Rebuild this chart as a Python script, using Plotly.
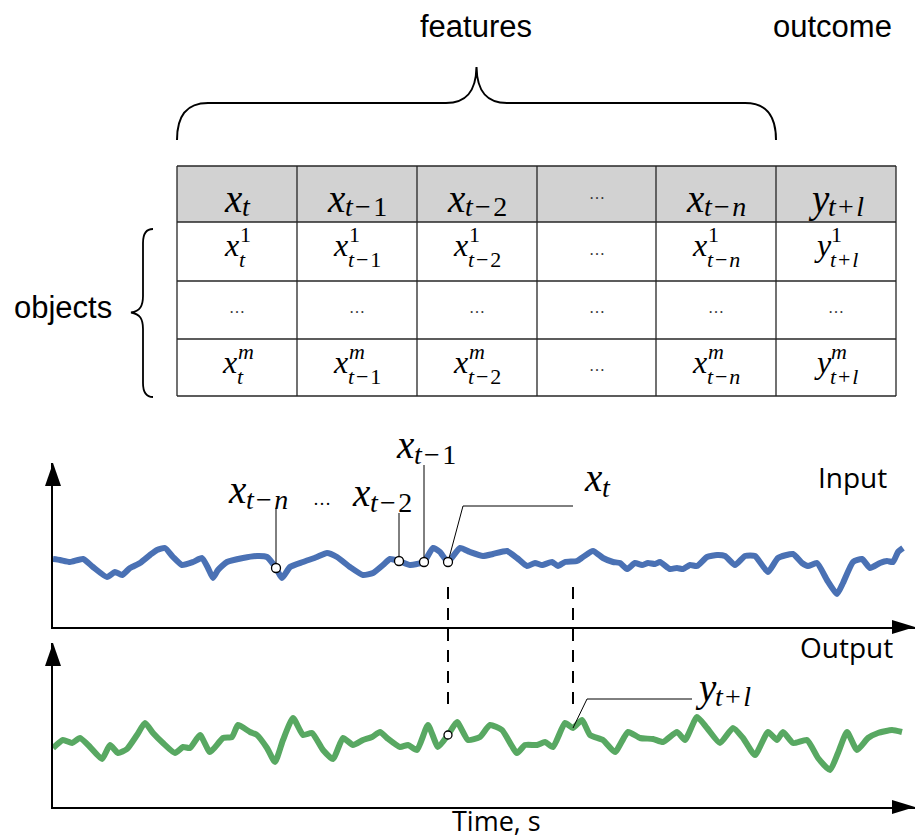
import plotly.graph_objects as go

W, H = 918, 840

# ------------------------------------------------------------------ data
# Table content
col_var = ["x", "x", "x", "…", "x", "y"]
col_sub = ["t", "t−1", "t−2", "", "t−n", "t+l"]
row_sup = ["1", "…", "m"]
top_labels = ["features", "outcome"]
row_label = "objects"

# Input signal (blue) – time, amplitude
input_time = [0, 7, 17, 30, 40, 54, 62, 69, 77, 87, 97, 104, 112, 120, 129, 140, 149, 155, 160, 165,
              174, 190, 204, 214, 223, 229, 237, 250, 264, 274, 284, 297, 310, 320, 330, 337, 346, 357,
              364, 371, 380, 387, 395, 407, 417, 430, 440, 454, 464, 474, 482, 489, 499, 505, 512, 524,
              530, 540, 550, 560, 567, 574, 582, 589, 595, 602, 607, 617, 624, 630, 637, 644, 654, 664,
              672, 682, 692, 702, 715, 725, 740, 749, 755, 764, 774, 784, 790, 800, 809, 817, 827, 834,
              840, 845, 850]
input_value = [68, 67, 65, 68, 60, 50, 55, 52, 59, 64, 72, 77, 79, 70, 62, 65, 69, 59, 49, 57,
               65, 69, 71, 70, 59, 49, 60, 65, 70, 74, 70, 60, 52, 54, 62, 68, 66, 62,
               63, 65, 79, 75, 65, 79, 75, 71, 73, 76, 69, 61, 64, 62, 65, 61, 65, 66,
               70, 76, 69, 65, 64, 58, 64, 62, 64, 63, 65, 58, 59, 58, 62, 61, 70, 72,
               71, 62, 71, 71, 55, 69, 73, 64, 61, 64, 47, 33, 44, 65, 68, 59, 64, 66,
               65, 75, 79]

# Output signal (green) – time, amplitude
output_time = [0, 10, 19, 27, 37, 49, 57, 65, 74, 84, 92, 100, 110, 122, 130, 137, 147, 157, 170, 179,
               185, 197, 204, 214, 222, 230, 240, 250, 259, 270, 280, 290, 300, 310, 319, 327, 334, 347,
               355, 364, 375, 385, 395, 404, 415, 427, 437, 449, 464, 472, 484, 492, 500, 512, 520, 529,
               537, 550, 562, 575, 587, 600, 610, 624, 632, 644, 654, 667, 680, 690, 702, 715, 724, 730,
               740, 754, 765, 777, 785, 794, 804, 815, 825, 839, 849]
output_value = [59, 67, 64, 69, 60, 48, 62, 54, 58, 72, 84, 74, 64, 54, 60, 59, 72, 55, 69, 70,
                82, 75, 72, 59, 45, 67, 89, 72, 74, 57, 48, 69, 62, 67, 70, 75, 69, 60,
                62, 57, 82, 60, 72, 85, 67, 70, 82, 77, 54, 62, 62, 65, 60, 84, 79, 87,
                72, 67, 55, 75, 69, 68, 65, 75, 67, 90, 79, 64, 79, 69, 52, 75, 67, 75,
                64, 67, 49, 37, 54, 75, 57, 69, 74, 77, 75]

# Marked samples
input_marks = {"t−n": 223, "t−2": 346, "t−1": 371, "t": 395}
output_mark_in = 395      # sample aligned with x_t
output_mark_out = 520     # y_{t+l}
axis_labels = ["Input", "Output", "Time, s"]

# ------------------------------------------------------------------ style
BLUE = "#4a71b4"
GREEN = "#58a862"
SERIF = "Liberation Serif"
SANS = "Liberation Sans"
OPEN = "Open Sans"
K = {SERIF: 0.3375, SANS: 0.3465, OPEN: 0.388}
HS = "\u200a"   # hair space around binary operators in scripts

# geometry (pixels)
AX_L, AX_R = 53, 915
TOP_B, TOP_T = 627, 463
BOT_B, BOT_T = 807, 643
T_MAX, V_MAX = AX_R - AX_L, TOP_B - TOP_T

COLS = [177, 297, 417, 537, 656, 776, 896]
ROWS = [166, 222, 281, 339, 396]

fig = go.Figure()


def px(x):
    return x / W


def py(y):
    return 1 - y / H


def t_of(x):
    return (x - AX_L) / (AX_R - AX_L) * T_MAX


def v_top(y):
    return (TOP_B - y) / (TOP_B - TOP_T) * V_MAX


def v_bot(y):
    return (BOT_B - y) / (BOT_B - BOT_T) * V_MAX


def path(cmds):
    out = []
    for c in cmds:
        letter, nums = c[0], c[1:]
        pts = []
        for i in range(0, len(nums), 2):
            pts.append(f"{px(nums[i]):.5f},{py(nums[i+1]):.5f}")
        out.append(letter + " " + " ".join(pts))
    return " ".join(out)


def add_text(text, x, base, size, family, color="black", anchor="center"):
    fig.add_annotation(text=text, x=px(x), y=py(base - K[family] * size),
                       xref="paper", yref="paper", xanchor=anchor, yanchor="middle",
                       showarrow=False, borderpad=0, borderwidth=0,
                       font=dict(family=family, size=size, color=color))


IT = {"x": .444, "y": .50, "t": .278, "n": .5, "l": .278, "m": .722}
RG = {"1": .5, "2": .5, "−": .564, "+": .564, HS: .083}


def spaced(s):
    return s.replace("−", HS + "−" + HS).replace("+", HS + "+" + HS)


def width(s):
    return sum(IT.get(c, RG.get(c, .5)) for c in s)


def ital(s):
    return "".join(f"<i>{c}</i>" if c.isalpha() else c for c in s)


def math_label(var, sub, sup, xc, base, M, s, ds, du=0):
    sub = spaced(sub) if sub else sub
    wv = IT[var] * M
    ws = max(width(sub or ""), width(sup or "")) * s
    x0 = xc - (wv + ws) / 2
    add_text(ital(var), x0, base, M, SERIF, anchor="left")
    if sub:
        add_text(ital(sub), x0 + wv + 0.5, base + ds, s, SERIF, anchor="left")
    if sup:
        add_text(ital(sup), x0 + wv + 1.5, base - du, s, SERIF, anchor="left")


# ------------------------------------------------------------------ table
fig.add_shape(type="rect", xref="paper", yref="paper", x0=px(COLS[0]), x1=px(COLS[-1]),
              y0=py(ROWS[0]), y1=py(ROWS[1]), fillcolor="#d2d2d2", line_width=0, layer="below")
for yv in ROWS:
    fig.add_shape(type="line", xref="paper", yref="paper", x0=px(COLS[0]), x1=px(COLS[-1]),
                  y0=py(yv), y1=py(yv), line=dict(color="#262626", width=1.3))
for xv in COLS:
    fig.add_shape(type="line", xref="paper", yref="paper", x0=px(xv), x1=px(xv),
                  y0=py(ROWS[0]), y1=py(ROWS[-1]), line=dict(color="#262626", width=1.3))

DOTS = "#333"
for ci, (var, sub) in enumerate(zip(col_var, col_sub)):
    xc = (COLS[ci] + COLS[ci + 1]) / 2
    if var == "…":
        add_text("…", xc, 199, 16, SERIF, color=DOTS)
        for ri in range(3):
            add_text("…", xc, (ROWS[ri + 1] + ROWS[ri + 2]) / 2 + 3, 16, SERIF, color=DOTS)
        continue
    math_label(var, sub, None, xc, 212, 39, 28, 4)
    for ri, sup in enumerate(row_sup):
        if sup == "…":
            add_text("…", xc, (ROWS[ri + 1] + ROWS[ri + 2]) / 2 + 3, 16, SERIF, color=DOTS)
        else:
            math_label(var, sub, sup, xc, ROWS[ri + 1] + 34, 32, 22, 11, 14)

# braces
fig.add_shape(type="path", xref="paper", yref="paper", line=dict(color="black", width=2),
              path=path([("M", 177, 140), ("C", 177, 116, 186, 103, 208, 103), ("L", 446, 103),
                         ("C", 466, 103, 476, 92, 476.5, 67), ("C", 477, 92, 487, 103, 507, 103),
                         ("L", 745, 103), ("C", 767, 103, 776, 116, 776, 140)]))
fig.add_shape(type="path", xref="paper", yref="paper", line=dict(color="black", width=1.8),
              path=path([("M", 153, 229), ("C", 146, 229, 143, 234, 143, 243), ("L", 143, 296),
                         ("C", 143, 306, 140, 311, 131, 312.5), ("C", 140, 314, 143, 319, 143, 329),
                         ("L", 143, 383), ("C", 143, 392, 146, 397, 153, 397)]))

add_text(top_labels[0], 476, 37, 31, SANS)
add_text(top_labels[1], 832, 37, 31, SANS)
add_text(row_label, 63, 318, 31, SANS)

# ------------------------------------------------------------------ series
def val_at(times, vals, t):
    return vals[times.index(t)]


leaders = [
    ([input_marks["t−n"], input_marks["t−n"]], [val_at(input_time, input_value, input_marks["t−n"]), v_top(508)]),
    ([input_marks["t−2"], input_marks["t−2"]], [val_at(input_time, input_value, input_marks["t−2"]), v_top(513)]),
    ([input_marks["t−1"], input_marks["t−1"]], [val_at(input_time, input_value, input_marks["t−1"]), v_top(465)]),
    ([input_marks["t"], t_of(463), t_of(573)], [val_at(input_time, input_value, input_marks["t"]), v_top(506), v_top(506)]),
]

fig.add_trace(go.Scatter(x=input_time, y=input_value, mode="lines", xaxis="x", yaxis="y",
                         line=dict(color=BLUE, width=6, shape="spline", smoothing=0.5),
                         hoverinfo="skip", showlegend=False))
for lx, ly in leaders:
    fig.add_trace(go.Scatter(x=lx, y=ly, mode="lines", xaxis="x", yaxis="y", cliponaxis=False,
                             line=dict(color="black", width=1), hoverinfo="skip", showlegend=False))
mk_t = list(input_marks.values())
fig.add_trace(go.Scatter(x=mk_t, y=[val_at(input_time, input_value, t) for t in mk_t], mode="markers",
                         xaxis="x", yaxis="y", cliponaxis=False,
                         marker=dict(size=9, color="white", line=dict(color="black", width=1.3)),
                         hoverinfo="skip", showlegend=False))

fig.add_trace(go.Scatter(x=output_time, y=output_value, mode="lines", xaxis="x2", yaxis="y2",
                         line=dict(color=GREEN, width=6, shape="spline", smoothing=0.5),
                         hoverinfo="skip", showlegend=False))
fig.add_trace(go.Scatter(x=[output_mark_out, t_of(587), t_of(692)],
                         y=[val_at(output_time, output_value, output_mark_out), v_bot(699), v_bot(699)],
                         mode="lines", xaxis="x2", yaxis="y2", cliponaxis=False,
                         line=dict(color="black", width=1), hoverinfo="skip", showlegend=False))
fig.add_trace(go.Scatter(x=[output_mark_in], y=[val_at(output_time, output_value, output_mark_in)],
                         mode="markers", xaxis="x2", yaxis="y2", cliponaxis=False,
                         marker=dict(size=8, color="white", line=dict(color="black", width=1.3)),
                         hoverinfo="skip", showlegend=False))

# dashed alignment lines
for t in (input_marks["t"], output_mark_out):
    fig.add_shape(type="line", xref="x", yref="paper", x0=t, x1=t, y0=py(587), y1=py(710),
                  line=dict(color="black", width=2, dash="12px,9px"))

# arrowheads
for ytip in (TOP_T, BOT_T):
    fig.add_shape(type="path", xref="paper", yref="paper", fillcolor="black", line_width=0,
                  path=path([("M", AX_L, ytip), ("L", AX_L - 8, ytip + 23), ("L", AX_L + 8, ytip + 23)]) + " Z")
for yax in (TOP_B, BOT_B):
    fig.add_shape(type="path", xref="paper", yref="paper", fillcolor="black", line_width=0,
                  path=path([("M", AX_R, yax), ("L", AX_R - 23, yax - 7), ("L", AX_R - 23, yax + 7)]) + " Z")

# series labels
math_label("x", "t−n", None, 258, 503, 39, 28, 6)
add_text("…", 322, 505, 18, SERIF)
math_label("x", "t−2", None, 382, 506, 39, 28, 6)
math_label("x", "t−1", None, 426, 458, 39, 28, 6)
math_label("x", "t", None, 597, 491, 39, 28, 6)
math_label("y", "t+l", None, 723, 701, 39, 28, 5)

add_text(axis_labels[0], 852, 488, 28, OPEN)
add_text(axis_labels[1], 846, 658, 28, OPEN)
add_text(axis_labels[2], 496, 831, 27, OPEN)

# ------------------------------------------------------------------ layout
ax_common = dict(showgrid=False, zeroline=False, showticklabels=False, ticks="",
                 showline=True, linecolor="black", linewidth=2, fixedrange=True)
fig.update_layout(
    width=W, height=H, margin=dict(l=0, r=0, t=0, b=0),
    paper_bgcolor="white", plot_bgcolor="rgba(0,0,0,0)", showlegend=False, hovermode=False,
    xaxis=dict(domain=[px(AX_L), px(AX_R)], range=[0, T_MAX], anchor="y", **ax_common),
    yaxis=dict(domain=[py(TOP_B), py(TOP_T)], range=[0, V_MAX], anchor="x", **ax_common),
    xaxis2=dict(domain=[px(AX_L), px(AX_R)], range=[0, T_MAX], anchor="y2", **ax_common),
    yaxis2=dict(domain=[py(BOT_B), py(BOT_T)], range=[0, V_MAX], anchor="x2", **ax_common),
)

fig.write_html("out.html", config={"displayModeBar": False},
               post_script="document.body.style.margin='0px';document.body.style.overflow='hidden';")
